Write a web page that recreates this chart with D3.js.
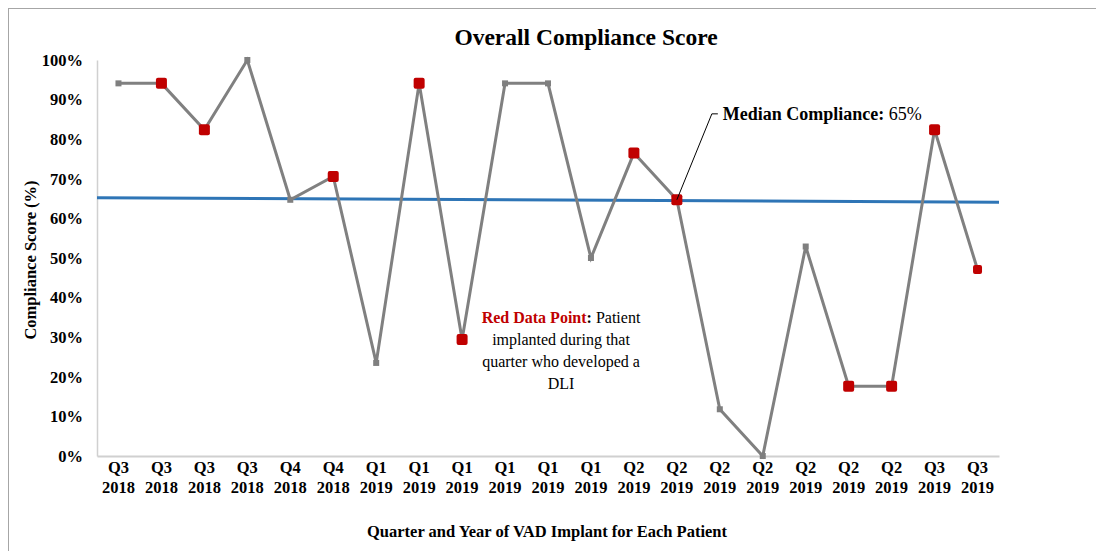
<!DOCTYPE html>
<html>
<head>
<meta charset="utf-8">
<script src="https://cdn.jsdelivr.net/npm/d3@7"></script>
<style>
  body { margin: 0; background: #fff; }
  text { font-family: "Times New Roman", "Liberation Serif", serif; }
</style>
</head>
<body>
<div id="chart"></div>
<script>
// data
const quarters = ["Q3","Q3","Q3","Q3","Q4","Q4","Q1","Q1","Q1","Q1","Q1","Q1","Q2","Q2","Q2","Q2","Q2","Q2","Q2","Q3","Q3"];
const years = ["2018","2018","2018","2018","2018","2018","2019","2019","2019","2019","2019","2019","2019","2019","2019","2019","2019","2019","2019","2019","2019"];
const scores = [94.1, 94.1, 82.4, 100, 64.7, 70.6, 23.5, 94.1, 29.4, 94.1, 94.1, 50, 76.5, 64.7, 11.8, 0, 52.9, 17.6, 17.6, 82.4, 47.1];
const dli = [0,1,1,0,0,1,0,1,1,0,0,0,1,1,0,0,0,1,1,1,1];
const medianLine = [65.2, 64.1];
const yTicks = [0,10,20,30,40,50,60,70,80,90,100];

const W = 1096, H = 551;
const margin = {top: 60, right: 97, bottom: 95, left: 97};
const width = W - margin.left - margin.right,
      height = H - margin.top - margin.bottom;

const root = d3.select("#chart").append("svg")
    .attr("width", W).attr("height", H);

// outer frame
root.append("rect")
    .attr("x", 8.5).attr("y", 8.5)
    .attr("width", W + 10).attr("height", H + 10)
    .attr("fill", "none").attr("stroke", "#a6a6a6").attr("stroke-width", 1);

root.append("text")
    .attr("x", 586).attr("y", 45)
    .attr("text-anchor", "middle")
    .style("font-size", "23.5px").style("font-weight", "bold")
    .text("Overall Compliance Score");

const svg = root.append("g")
    .attr("transform", `translate(${margin.left},${margin.top})`);

const idx = d3.range(scores.length);
const x = d3.scaleBand().domain(idx).range([0, width]);
const cx = i => x(i) + x.bandwidth() / 2;
const y = d3.scaleLinear().domain([0, 100]).range([height, 0]);

// axes
const yAxis = svg.append("g")
    .call(d3.axisLeft(y).tickValues(yTicks).tickSize(0).tickPadding(14).tickFormat(d => d + "%"));
yAxis.select(".domain").attr("stroke", "#d0d0d0").attr("stroke-width", 1.5);
yAxis.selectAll("text")
    .style("font-family", "'Times New Roman','Liberation Serif',serif")
    .style("font-size", "16.5px").style("font-weight", "bold").attr("fill", "#000");

const xAxis = svg.append("g")
    .attr("transform", `translate(0,${height})`)
    .call(d3.axisBottom(x).tickSize(0).tickFormat(""));
xAxis.select(".domain").attr("stroke", "#d0d0d0").attr("stroke-width", 2);
xAxis.selectAll(".tick").each(function(i) {
    const t = d3.select(this).append("text")
        .attr("text-anchor", "middle")
        .style("font-size", "16.5px").style("font-weight", "bold").attr("fill", "#000");
    t.append("tspan").attr("x", 0).attr("y", 17).text(quarters[i]);
    t.append("tspan").attr("x", 0).attr("y", 37).text(years[i]);
});

// axis titles
root.append("text")
    .attr("x", 547).attr("y", 537)
    .attr("text-anchor", "middle")
    .style("font-size", "16.5px").style("font-weight", "bold")
    .text("Quarter and Year of VAD Implant for Each Patient");
root.append("text")
    .attr("transform", "translate(36,260) rotate(-90)")
    .attr("text-anchor", "middle")
    .style("font-size", "16.5px").style("font-weight", "bold")
    .text("Compliance Score (%)");

// median line
svg.append("line")
    .attr("x1", 0).attr("x2", width)
    .attr("y1", y(medianLine[0])).attr("y2", y(medianLine[1]))
    .attr("stroke", "#2e75b6").attr("stroke-width", 3);

// score line
svg.append("path")
    .datum(idx)
    .attr("fill", "none")
    .attr("stroke", "#808080")
    .attr("stroke-width", 3)
    .attr("d", d3.line().x(i => cx(i)).y(i => y(scores[i])));

// markers
svg.selectAll("rect.pt")
    .data(idx)
    .join("rect")
    .attr("class", "pt")
    .each(function(i) {
        const s = dli[i] ? (i === scores.length - 1 ? 9 : 11) : 6;
        d3.select(this)
            .attr("x", cx(i) - s / 2).attr("y", y(scores[i]) - s / 2)
            .attr("width", s).attr("height", s)
            .attr("rx", dli[i] ? 2 : 0)
            .attr("fill", dli[i] ? "#c00000" : "#7f7f7f");
    });

// median annotation
const mi = 13;
svg.append("polyline")
    .attr("points", [[cx(mi), y(scores[mi])], [cx(mi) + 35, y(86.4)], [cx(mi) + 41, y(86.4)]].map(p => p.join(",")).join(" "))
    .attr("fill", "none").attr("stroke", "#000").attr("stroke-width", 1);
const ann = svg.append("text")
    .attr("x", cx(mi) + 46).attr("y", y(86.4) + 6)
    .style("font-size", "18px");
ann.append("tspan").style("font-weight", "bold").text("Median Compliance: ");
ann.append("tspan").text("65%");

// red point note
const note = root.append("g").attr("transform", "translate(561,0)")
    .selectAll("text").data([0,1,2,3]).join("text")
    .attr("text-anchor", "middle")
    .attr("y", d => 323 + d * 22)
    .style("font-size", "16px");
const first = note.filter(d => d === 0);
first.append("tspan").style("font-weight", "bold").attr("fill", "#c00000").text("Red Data Point");
first.append("tspan").style("font-weight", "bold").text(":");
first.append("tspan").text(" Patient");
note.filter(d => d === 1).text("implanted during that");
note.filter(d => d === 2).text("quarter who developed a");
note.filter(d => d === 3).text("DLI");
</script>
</body>
</html>
